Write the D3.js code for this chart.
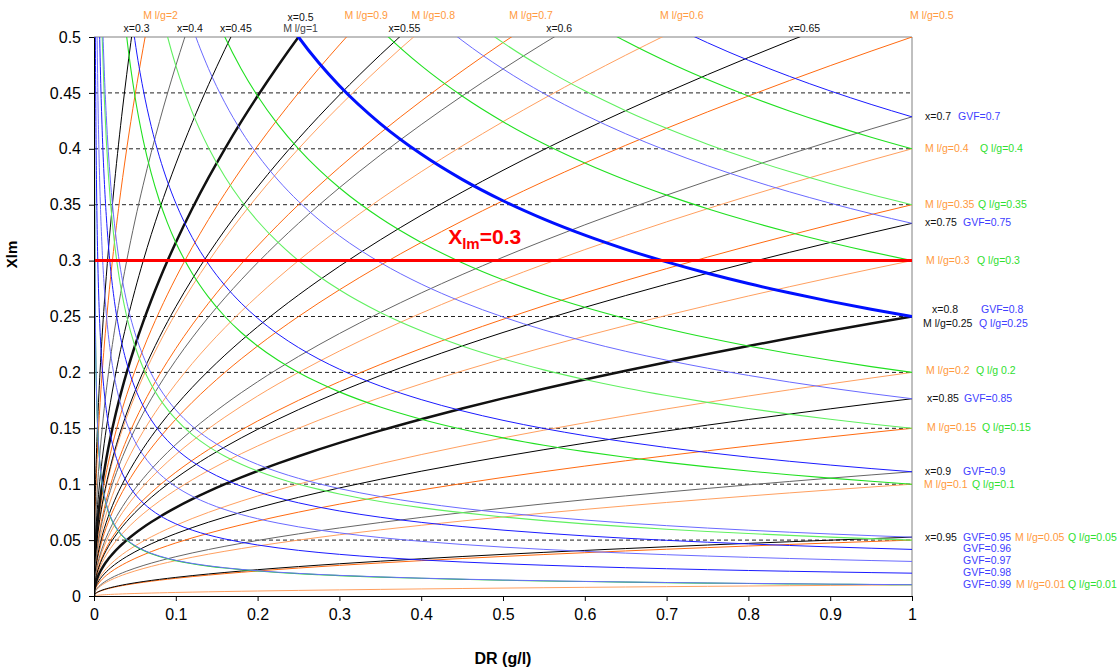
<!DOCTYPE html>
<html>
<head>
<meta charset="utf-8">
<script src="https://cdn.jsdelivr.net/npm/d3@7"></script>
<style>
  body { margin: 0; background: #fff; }
  text { font-family: "Liberation Sans", Arial, sans-serif; }
</style>
</head>
<body>
<div id="chart"></div>
<script>
// ---- data ----
// gas mass fraction x (black), liquid/gas mass ratio (orange),
// liquid/gas volume ratio (green), gas volume fraction (blue)
var qualities  = [0.3, 0.4, 0.45, 0.5, 0.55, 0.6, 0.65, 0.7, 0.75, 0.8, 0.85, 0.9, 0.95];
var massRatios = [2, 1, 0.9, 0.8, 0.7, 0.6, 0.5, 0.4, 0.35, 0.3, 0.25, 0.2, 0.15, 0.1, 0.05, 0.01];
var volRatios  = [0.4, 0.35, 0.3, 0.25, 0.2, 0.15, 0.1, 0.05, 0.01];
var gvfs       = [0.7, 0.75, 0.8, 0.85, 0.9, 0.95, 0.96, 0.97, 0.98, 0.99];

// density ratio values where every line is evaluated
var drSamples = [0, 0.0001, 0.0002, 0.0003, 0.0004, 0.0006, 0.0008, 0.001, 0.0013, 0.0016, 0.002,
  0.0025, 0.003, 0.004, 0.005, 0.006, 0.008, 0.01, 0.0125, 0.015, 0.0175, 0.02, 0.025, 0.03,
  0.035, 0.04, 0.05, 0.06, 0.07, 0.08, 0.09, 0.1, 0.12, 0.14, 0.16, 0.18, 0.2, 0.225, 0.25,
  0.275, 0.3, 0.35, 0.4, 0.45, 0.5, 0.55, 0.6, 0.65, 0.7, 0.75, 0.8, 0.85, 0.9, 0.95, 1];

var xTicks = [0, 0.1, 0.2, 0.3, 0.4, 0.5, 0.6, 0.7, 0.8, 0.9, 1];
var xTickLabels = ["0", "0.1", "0.2", "0.3", "0.4", "0.5", "0.6", "0.7", "0.8", "0.9", "1"];
var yTicks = [0, 0.05, 0.1, 0.15, 0.2, 0.25, 0.3, 0.35, 0.4, 0.45, 0.5];
var yTickLabels = ["0", "0.05", "0.1", "0.15", "0.2", "0.25", "0.3", "0.35", "0.4", "0.45", "0.5"];

var xlmLimit = 0.3;
var thickQualities = [0.5, 0.8];
var thickGvf = [0.8];

var topQualityLabels = [0.3, 0.4, 0.45, 0.55, 0.6, 0.65];
var topMassLabels = [2, 0.9, 0.8, 0.7, 0.6, 0.5];

// right hand labels: [value of the line they belong to, dy, [text, colour, left px]...]
var rightRows = [
  [0.4286, 3, ["x=0.7", "k", 925], ["GVF=0.7", "b", 958]],
  [0.4, 3, ["M l/g=0.4", "o", 925], ["Q l/g=0.4", "g", 980]],
  [0.35, 3, ["M l/g=0.35", "o", 925], ["Q l/g=0.35", "g", 978]],
  [0.3333, 3, ["x=0.75", "k", 925], ["GVF=0.75", "b", 963]],
  [0.3, 3, ["M l/g=0.3", "o", 926], ["Q l/g=0.3", "g", 977]],
  [0.25, -4, ["x=0.8", "k", 932], ["GVF=0.8", "b", 981]],
  [0.25, 10, ["M l/g=0.25", "k", 923], ["Q l/g=0.25", "b", 979]],
  [0.2, 2, ["M l/g=0.2", "o", 926], ["Q l/g 0.2", "g", 976]],
  [0.1765, 3, ["x=0.85", "k", 927], ["GVF=0.85", "b", 964]],
  [0.15, 3, ["M l/g=0.15", "o", 927], ["Q l/g=0.15", "g", 982]],
  [0.1111, 3, ["x=0.9", "k", 925], ["GVF=0.9", "b", 963]],
  [0.1, 4, ["M l/g=0.1", "o", 924], ["Q l/g=0.1", "g", 972]],
  [0.0526, 4, ["x=0.95", "k", 925], ["GVF=0.95", "b", 963], ["M l/g=0.05", "o", 1015], ["Q l/g=0.05", "g", 1068]],
  [0.0417, 3, ["GVF=0.96", "b", 963]],
  [0.0309, 3, ["GVF=0.97", "b", 963]],
  [0.0204, 3, ["GVF=0.98", "b", 963]],
  [0.0101, 3, ["GVF=0.99", "b", 963], ["M l/g=0.01", "o", 1016], ["Q l/g=0.01", "g", 1068]]
];
var labelColor = { k: "#111", b: "#4040ff", o: "#ff9a40", g: "#30e030" };

// ---- chart ----
var margin = {top: 37, right: 208, bottom: 75, left: 94},
    width = 1120 - margin.left - margin.right,
    height = 671 - margin.top - margin.bottom;

var svgRoot = d3.select("#chart")
  .append("svg")
    .attr("width", 1120)
    .attr("height", 671)
    .style("display", "block");

var svg = svgRoot.append("g")
    .attr("transform", "translate(" + margin.left + "," + margin.top + ")");

var x = d3.scaleLinear().domain([0, 1]).range([0, width]);
var y = d3.scaleLinear().domain([0, 0.5]).range([height, 0]);

svg.append("clipPath").attr("id", "plotclip")
  .append("rect").attr("width", width).attr("height", height);

// dashed gridlines
svg.append("g")
  .selectAll("line")
  .data(yTicks.filter(function(d){ return d > 0 && d < 0.5; }))
  .enter().append("line")
    .attr("x1", 0).attr("x2", width)
    .attr("y1", function(d){ return y(d); })
    .attr("y2", function(d){ return y(d); })
    .attr("stroke", "#222")
    .attr("stroke-dasharray", "4,3");

// top and right border
svg.append("line").attr("x1", 0).attr("x2", width).attr("y1", 0).attr("y2", 0).attr("stroke", "#808080");
svg.append("line").attr("x1", width).attr("x2", width).attr("y1", 0).attr("y2", height).attr("stroke", "#808080");

var line = d3.line()
  .defined(function(d){ return isFinite(d[1]); })
  .x(function(d){ return x(d[0]); })
  .y(function(d){ return y(Math.min(d[1], 2)); })
  .curve(d3.curveMonotoneX);

var plot = svg.append("g").attr("clip-path", "url(#plotclip)");

function rising(k) {
  return drSamples.map(function(dr){ return [dr, k * Math.sqrt(dr)]; });
}
function falling(q) {
  return drSamples.filter(function(dr){ return dr > 0; })
    .map(function(dr){ return [dr, q / Math.sqrt(dr)]; });
}

// orange: M l/g
plot.append("g").selectAll("path")
  .data(massRatios).enter().append("path")
    .attr("d", function(m){ return line(rising(m)); })
    .attr("fill", "none")
    .attr("stroke", function(m, i){ return i % 2 ? "#ffa060" : "#ff6a10"; })
    .attr("stroke-width", 1);

// black: gas quality x
plot.append("g").selectAll("path")
  .data(qualities).enter().append("path")
    .attr("d", function(q){ return line(rising((1 - q) / q)); })
    .attr("fill", "none")
    .attr("stroke", function(q, i){ return thickQualities.indexOf(q) >= 0 ? "#111" : (i % 2 ? "#666" : "#000"); })
    .attr("stroke-width", function(q){ return thickQualities.indexOf(q) >= 0 ? 2.5 : 1; });

// green: Q l/g
plot.append("g").selectAll("path")
  .data(volRatios).enter().append("path")
    .attr("d", function(q){ return line(falling(q)); })
    .attr("fill", "none")
    .attr("stroke", function(q, i){ return i % 2 ? "#60f060" : "#20e020"; })
    .attr("stroke-width", 1.1);

// blue: GVF
plot.append("g").selectAll("path")
  .data(gvfs).enter().append("path")
    .attr("d", function(g){ return line(falling((1 - g) / g)); })
    .attr("fill", "none")
    .attr("stroke", function(g, i){ return thickGvf.indexOf(g) >= 0 ? "#0010ff" : (i % 2 ? "#6a6aff" : "#1a1aff"); })
    .attr("stroke-width", function(g){ return thickGvf.indexOf(g) >= 0 ? 3 : 1; });

// Xlm limit
plot.append("line")
  .attr("x1", x(0)).attr("x2", x(1))
  .attr("y1", y(xlmLimit)).attr("y2", y(xlmLimit))
  .attr("stroke", "#ff0000")
  .attr("stroke-width", 3);

var lim = svg.append("text")
  .attr("x", x(0.433))
  .attr("y", y(xlmLimit) - 17)
  .attr("fill", "#ff0000")
  .style("font-weight", "bold")
  .style("font-size", "21px");
lim.append("tspan").text("X");
lim.append("tspan").attr("dy", 5).style("font-size", "15px").text("lm");
lim.append("tspan").attr("dy", -5).text("=0.3");

// axes
var yAxis = svg.append("g")
  .call(d3.axisLeft(y).tickValues(yTicks).tickSize(5).tickSizeOuter(0)
    .tickFormat(function(d, i){ return yTickLabels[i]; }));
yAxis.selectAll("text").style("font-size", "16px").attr("x", -13).attr("fill", "#000");
yAxis.selectAll("line, path").attr("stroke", "#000");

var xAxis = svg.append("g")
  .attr("transform", "translate(0," + height + ")")
  .call(d3.axisBottom(x).tickValues(xTicks).tickSize(5).tickSizeOuter(0)
    .tickFormat(function(d, i){ return xTickLabels[i]; }));
xAxis.selectAll("text").style("font-size", "16px").attr("y", 13).attr("fill", "#000");
xAxis.selectAll("line, path").attr("stroke", "#000");

svg.append("text")
  .attr("text-anchor", "middle")
  .attr("transform", "translate(" + (-77) + "," + (height / 2 - 62) + ")rotate(-90)")
  .style("font-size", "15px")
  .style("font-weight", "bold")
  .text("Xlm");

svg.append("text")
  .attr("text-anchor", "middle")
  .attr("x", width / 2)
  .attr("y", height + 68)
  .style("font-size", "16px")
  .style("font-weight", "bold")
  .text("DR (g/l)");

// labels along the top edge, where each line leaves the plot
svg.append("g").selectAll("text")
  .data(topQualityLabels).enter().append("text")
    .attr("x", function(q){ var m = (1 - q) / q; return x(Math.pow(0.5 / m, 2)) + 5; })
    .attr("y", -5)
    .attr("text-anchor", "middle")
    .style("font-size", "10.5px")
    .attr("fill", "#111")
    .text(function(q){ return "x=" + q; });

svg.append("text").attr("x", x(0.25) + 2).attr("y", -16).attr("text-anchor", "middle")
  .style("font-size", "10.5px").attr("fill", "#111").text("x=0.5");
svg.append("text").attr("x", x(0.25) + 2).attr("y", -5).attr("text-anchor", "middle")
  .style("font-size", "10.5px").attr("fill", "#444").text("M l/g=1");

svg.append("g").selectAll("text")
  .data(topMassLabels).enter().append("text")
    .attr("x", function(m){ return x(Math.pow(0.5 / m, 2)) + 10; })
    .attr("y", -18)
    .attr("text-anchor", "start")
    .attr("dx", -12)
    .style("font-size", "10.5px")
    .attr("fill", "#ff9a40")
    .text(function(m){ return "M l/g=" + m; });

// labels on the right
var rows = svgRoot.append("g").selectAll("g")
  .data(rightRows).enter().append("g");
rows.each(function(r){
  var g = d3.select(this);
  r.slice(2).forEach(function(it){
    g.append("text")
      .attr("x", it[2])
      .attr("y", margin.top + y(r[0]) + r[1])
      .style("font-size", "10.5px")
      .attr("fill", labelColor[it[1]])
      .text(it[0]);
  });
});
</script>
</body>
</html>
